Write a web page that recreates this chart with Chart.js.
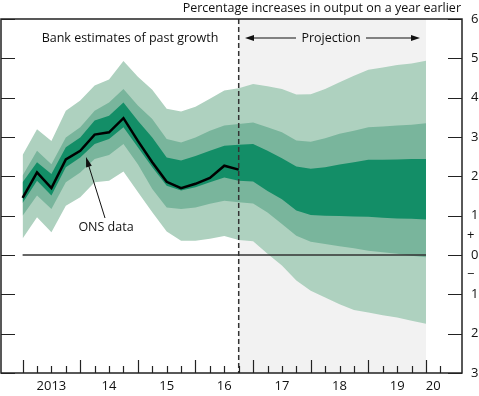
<!DOCTYPE html>
<html>
<head>
<meta charset="utf-8">
<script src="https://cdn.jsdelivr.net/npm/chart.js@4.4.1/dist/chart.umd.min.js"></script>
<style>
  body { margin: 0; background: #fff; }
  canvas { display: block; }
</style>
</head>
<body>
<canvas id="fan" width="479" height="396"></canvas>
<script>
// Quarterly points, first one at the start of 2013; ONS data runs to the dashed line
const yearLabels = ['2013', '14', '15', '16', '17', '18', '19', '20'];
const yLabels = [-3, -2, -1, 0, 1, 2, 3, 4, 5, 6];

const onsData = [1.45, 2.10, 1.70, 2.43, 2.65, 3.06, 3.12, 3.48, 2.90, 2.36, 1.86, 1.70, 1.81, 1.96, 2.27, 2.17];

const lightTop = [2.54, 3.20, 2.90, 3.67, 3.93, 4.31, 4.46, 4.93, 4.53, 4.20, 3.72, 3.65, 3.77, 3.97, 4.18, 4.24,
  4.35, 4.29, 4.22, 4.08, 4.09, 4.22, 4.39, 4.56, 4.71, 4.77, 4.83, 4.87, 4.94];
const midTop = [2.02, 2.65, 2.31, 2.99, 3.25, 3.67, 3.88, 4.22, 3.80, 3.46, 2.95, 2.86, 2.99, 3.16, 3.29, 3.33,
  3.37, 3.25, 3.12, 2.91, 2.88, 2.97, 3.08, 3.16, 3.25, 3.27, 3.29, 3.31, 3.35];
const darkTop = [1.85, 2.36, 2.06, 2.74, 2.99, 3.42, 3.54, 3.88, 3.41, 2.99, 2.48, 2.40, 2.52, 2.65, 2.78, 2.80,
  2.82, 2.65, 2.46, 2.25, 2.19, 2.23, 2.30, 2.36, 2.42, 2.42, 2.43, 2.44, 2.44];
const darkBot = [1.32, 1.89, 1.51, 2.23, 2.48, 2.82, 2.95, 3.25, 2.74, 2.23, 1.76, 1.64, 1.72, 1.85, 1.97, 1.89,
  1.87, 1.63, 1.42, 1.13, 1.02, 1.00, 0.99, 0.98, 0.97, 0.95, 0.93, 0.92, 0.90];
const midBot = [1.00, 1.51, 1.17, 1.85, 2.10, 2.44, 2.54, 2.82, 2.31, 1.68, 1.21, 1.17, 1.21, 1.30, 1.38, 1.34,
  1.31, 1.08, 0.79, 0.49, 0.34, 0.28, 0.22, 0.17, 0.11, 0.07, 0.03, -0.02, -0.06];
const lightBot = [0.42, 0.96, 0.58, 1.25, 1.47, 1.85, 1.89, 2.12, 1.60, 1.09, 0.60, 0.36, 0.36, 0.41, 0.48, 0.38,
  0.35, 0.03, -0.27, -0.65, -0.91, -1.08, -1.25, -1.40, -1.46, -1.53, -1.59, -1.67, -1.75];

const projStart = onsData.length - 1;   // dashed line
const projEnd = lightTop.length - 1;
const lastQuarter = projEnd + 1;        // last tick shown on the axis

const FONT = '"Open Sans", sans-serif';
const LIGHT = '#aed1bf';
const MID = '#79b59c';
const DARK = '#138e67';

const pts = arr => arr.map((v, i) => ({ x: i, y: v }));

const band = (data, color, fill) => ({
  data: pts(data),
  borderWidth: 0,
  pointRadius: 0,
  backgroundColor: color,
  fill: fill,
  tension: 0
});

// year label sits in the middle of the quarters that year covers on the axis
const yearCentre = k => (4 * k + Math.min(4 * k + 4, lastQuarter)) / 2;

const arrow = (ctx, x1, y1, x2, y2, len, half) => {
  const a = Math.atan2(y2 - y1, x2 - x1);
  ctx.beginPath();
  ctx.moveTo(x1, y1);
  ctx.lineTo(x2 - Math.cos(a) * len * 0.8, y2 - Math.sin(a) * len * 0.8);
  ctx.stroke();
  ctx.beginPath();
  ctx.moveTo(x2, y2);
  ctx.lineTo(x2 - Math.cos(a) * len - Math.sin(a) * half, y2 - Math.sin(a) * len + Math.cos(a) * half);
  ctx.lineTo(x2 - Math.cos(a) * len + Math.sin(a) * half, y2 - Math.sin(a) * len - Math.cos(a) * half);
  ctx.closePath();
  ctx.fill();
};

const fanDecor = {
  id: 'fanDecor',
  beforeDatasetsDraw(chart) {
    const { ctx, chartArea: a, scales: { x } } = chart;
    ctx.save();
    ctx.fillStyle = '#f2f2f2';
    const x1 = x.getPixelForValue(projStart), x2 = x.getPixelForValue(projEnd);
    ctx.fillRect(x1, a.top, x2 - x1, a.bottom - a.top);
    ctx.restore();
  },
  afterDatasetsDraw(chart) {
    const { ctx, chartArea: a, scales: { x, y } } = chart;
    ctx.save();

    // dashed divider
    const xd = x.getPixelForValue(projStart);
    ctx.strokeStyle = '#333';
    ctx.lineWidth = 1.5;
    ctx.setLineDash([5, 3]);
    ctx.beginPath();
    ctx.moveTo(xd, a.top);
    ctx.lineTo(xd, a.bottom);
    ctx.stroke();
    ctx.setLineDash([]);

    // frame
    ctx.strokeStyle = '#222';
    ctx.lineWidth = 1.5;
    ctx.strokeRect(a.left, a.top, a.right - a.left, a.bottom - a.top);

    // y ticks on both sides, pointing in
    ctx.lineWidth = 1.2;
    yLabels.forEach(v => {
      const py = Math.round(y.getPixelForValue(v)) + 0.5;
      ctx.beginPath();
      ctx.moveTo(a.left, py); ctx.lineTo(a.left + 14, py);
      ctx.moveTo(a.right, py); ctx.lineTo(a.right - 14, py);
      ctx.stroke();
    });

    // quarter ticks, years taller
    for (let q = 0; q <= lastQuarter; q++) {
      const px = Math.round(x.getPixelForValue(q)) + 0.5;
      ctx.beginPath();
      ctx.moveTo(px, a.bottom);
      ctx.lineTo(px, a.bottom - (q % 4 === 0 ? 13 : 7));
      ctx.stroke();
    }

    // texts
    ctx.fillStyle = '#111';
    ctx.font = '12.5px ' + FONT;
    ctx.textBaseline = 'middle';
    ctx.textAlign = 'right';
    ctx.fillText('Percentage increases in output on a year earlier', 461, 8);
    ctx.textAlign = 'center';
    ctx.fillText('Bank estimates of past growth', 130, 38);
    ctx.fillText('Projection', 331, 38);
    ctx.fillText('ONS data', 106, 227);
    ctx.textAlign = 'left';
    ctx.font = '13px ' + FONT;
    ctx.fillText('+', 467, y.getPixelForValue(0.5));
    ctx.fillText('\u2212', 467, y.getPixelForValue(-0.5));

    // arrows
    ctx.strokeStyle = '#111';
    ctx.fillStyle = '#111';
    ctx.lineWidth = 1;
    arrow(ctx, 296, 38, 245, 38, 9, 3);
    arrow(ctx, 366, 38, 420, 38, 9, 3);
    arrow(ctx, 105, 218, 86, 157, 10, 3);

    ctx.restore();
  }
};

new Chart(document.getElementById('fan'), {
  type: 'line',
  data: {
    datasets: [
      { data: pts(onsData), borderColor: '#000', borderWidth: 2.5, pointRadius: 0, fill: false, tension: 0 },
      { data: [{ x: 0, y: 0 }, { x: projEnd, y: 0 }], borderColor: '#333', borderWidth: 1.3, pointRadius: 0, fill: false },
      band(darkTop, DARK, '+1'),
      band(darkBot, DARK, false),
      band(midTop, MID, '+1'),
      band(midBot, MID, false),
      band(lightTop, LIGHT, '+1'),
      band(lightBot, LIGHT, false)
    ]
  },
  options: {
    responsive: false,
    animation: false,
    events: [],
    layout: { padding: { top: 19, left: 1, right: 0, bottom: 0 } },
    plugins: { legend: { display: false }, tooltip: { enabled: false } },
    scales: {
      x: {
        type: 'linear',
        min: -1.5,
        max: 30.5,
        grid: { display: false, drawTicks: false },
        border: { display: false },
        afterBuildTicks: s => { s.ticks = yearLabels.map((l, k) => ({ value: yearCentre(k) })); },
        afterFit: s => { s.height = 23; },
        ticks: {
          autoSkip: false,
          maxRotation: 0,
          padding: 5,
          color: '#111',
          font: { family: FONT, size: 13 },
          callback: (v, i) => yearLabels[i]
        }
      },
      y: {
        position: 'right',
        min: -3,
        max: 6,
        grid: { display: false, drawTicks: false },
        border: { display: false },
        afterFit: s => { s.width = 17; },
        ticks: {
          stepSize: 1,
          padding: 9,
          color: '#111',
          font: { family: FONT, size: 13 },
          callback: v => String(Math.abs(v))
        }
      }
    }
  },
  plugins: [fanDecor]
});
</script>
</body>
</html>
